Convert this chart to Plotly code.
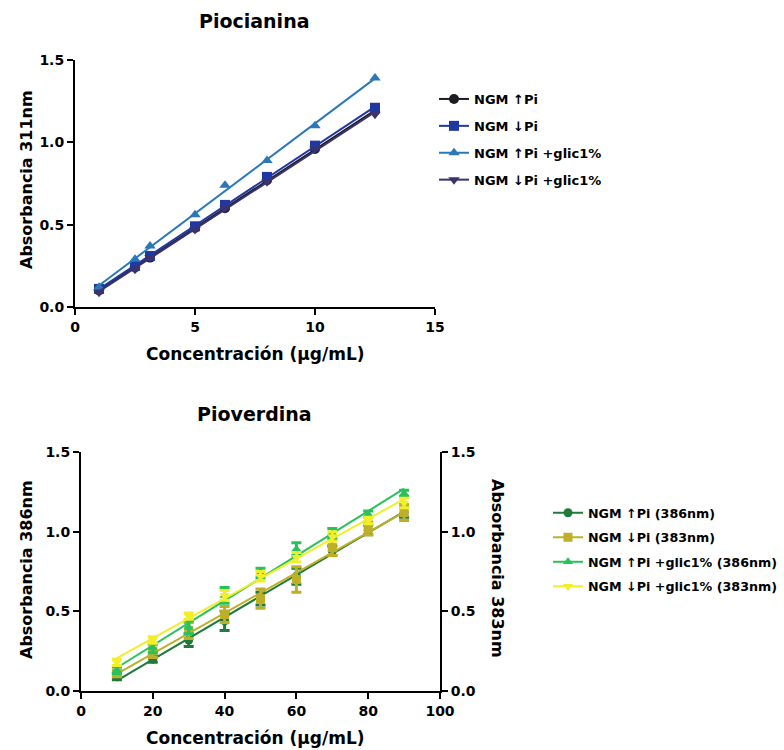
import numpy as np
import plotly.graph_objects as go

# ---------------- data ----------------
conc_pio = [1, 2.5, 3.125, 5, 6.25, 8, 10, 12.5]
pio_up = [0.10, 0.24, 0.30, 0.48, 0.60, 0.77, 0.96, 1.19]
pio_down = [0.11, 0.25, 0.31, 0.49, 0.62, 0.79, 0.98, 1.21]
pio_up_glic = [0.12, 0.29, 0.37, 0.56, 0.74, 0.89, 1.10, 1.39]
pio_down_glic = [0.09, 0.23, 0.30, 0.47, 0.60, 0.76, 0.96, 1.17]

conc_pvd = [10, 20, 30, 40, 50, 60, 70, 80, 90]
pvd_up = [0.09, 0.20, 0.32, 0.44, 0.58, 0.72, 0.88, 1.01, 1.12]
pvd_up_err = [0.02, 0.02, 0.04, 0.06, 0.04, 0.05, 0.03, 0.03, 0.03]
pvd_down = [0.11, 0.25, 0.38, 0.48, 0.58, 0.70, 0.90, 1.02, 1.12]
pvd_down_err = [0.02, 0.04, 0.05, 0.05, 0.06, 0.08, 0.05, 0.04, 0.05]
pvd_up_glic = [0.13, 0.27, 0.40, 0.60, 0.74, 0.89, 0.99, 1.11, 1.24]
pvd_up_glic_err = [0.02, 0.03, 0.04, 0.05, 0.03, 0.04, 0.03, 0.02, 0.02]
pvd_down_glic = [0.18, 0.32, 0.47, 0.60, 0.72, 0.84, 0.97, 1.07, 1.18]
pvd_down_glic_err = [0.02, 0.02, 0.02, 0.03, 0.03, 0.03, 0.03, 0.02, 0.03]

UP = "<span style='font-family:DejaVu Sans'>\u2191</span>"
DN = "<span style='font-family:DejaVu Sans'>\u2193</span>"
pio_names = ["NGM " + UP + "Pi", "NGM " + DN + "Pi", "NGM " + UP + "Pi +glic1%", "NGM " + DN + "Pi +glic1%"]
pvd_names = ["NGM " + UP + "Pi (386nm)", "NGM " + DN + "Pi (383nm)",
             "NGM " + UP + "Pi +glic1% (386nm)", "NGM " + DN + "Pi +glic1% (383nm)"]

FONT = "DejaVu Sans"

fig = go.Figure()

def add_series(x, y, name, color, symbol, size, xa, ya, legend, err=None):
    coef = np.polyfit(x, y, 1)
    xf = [min(x), max(x)]
    yf = [coef[0] * v + coef[1] for v in xf]
    fig.add_trace(go.Scatter(x=xf, y=yf, mode="lines", line=dict(color=color, width=2),
                             xaxis=xa, yaxis=ya, showlegend=False, hoverinfo="skip"))
    ekw = {}
    if err is not None:
        ekw = dict(error_y=dict(type="data", array=err, color=color, thickness=3, width=5))
    fig.add_trace(go.Scatter(x=x, y=y, mode="markers",
                             marker=dict(color=color, symbol=symbol, size=size),
                             xaxis=xa, yaxis=ya, showlegend=False, **ekw))
    fig.add_trace(go.Scatter(x=[None], y=[None], mode="lines+markers", name=name,
                             line=dict(color=color, width=2),
                             marker=dict(color=color, symbol=symbol, size=size),
                             xaxis=xa, yaxis=ya, legend=legend, legendgroup=name))

pio_colors = ["#1c1c22", "#2038a0", "#2a78b8", "#3b3270"]
pio_symbols = ["circle", "square", "triangle-up", "triangle-down"]
for yv, nm, c, s in zip([pio_up, pio_down, pio_up_glic, pio_down_glic], pio_names, pio_colors, pio_symbols):
    add_series(conc_pio, yv, nm, c, s, 10, "x", "y", "legend")

pvd_colors = ["#1f7a3c", "#bdb028", "#28c25a", "#f2ee2a"]
for yv, er, nm, c, s in zip([pvd_up, pvd_down, pvd_up_glic, pvd_down_glic],
                            [pvd_up_err, pvd_down_err, pvd_up_glic_err, pvd_down_glic_err],
                            pvd_names, pvd_colors, pio_symbols):
    add_series(conc_pvd, yv, nm, c, s, 9, "x2", "y2", "legend2", err=er)

W, H = 784, 750
def px_x(p):
    return p / W
def px_y(p):
    return 1 - p / H

axis_common = dict(showline=True, linecolor="black", linewidth=2, ticks="outside",
                   ticklen=6, tickwidth=2, tickcolor="black", showgrid=False, zeroline=False,
                   automargin=False,
                   tickfont=dict(family=FONT, size=14, color="black", weight="bold"))

fig.update_layout(
    width=W, height=H, paper_bgcolor="white", plot_bgcolor="white",
    margin=dict(l=0, r=0, t=0, b=0, pad=0, autoexpand=False),
    font=dict(family=FONT, color="black"),
    xaxis=dict(domain=[px_x(75), px_x(435)], range=[0, 15], tickvals=[0, 5, 10, 15],
               anchor="y", **axis_common),
    yaxis=dict(domain=[px_y(307), px_y(60)], range=[0, 1.5], tickvals=[0, 0.5, 1.0, 1.5],
               ticktext=["0.0", "0.5", "1.0", "1.5"], anchor="x", **axis_common),
    xaxis2=dict(domain=[px_x(81), px_x(440)], range=[0, 100], tickvals=[0, 20, 40, 60, 80, 100],
                anchor="y2", **axis_common),
    yaxis2=dict(domain=[px_y(691), px_y(452)], range=[0, 1.5], tickvals=[0, 0.5, 1.0, 1.5],
                ticktext=["0.0", "0.5", "1.0", "1.5"], anchor="x2", **axis_common),
    yaxis3=dict(domain=[px_y(691), px_y(452)], range=[0, 1.5], tickvals=[0, 0.5, 1.0, 1.5],
                ticktext=["0.0", "0.5", "1.0", "1.5"], anchor="x2", overlaying="y2", side="right",
                **axis_common),
    legend=dict(x=px_x(434), y=px_y(84), xanchor="left", yanchor="top",
                bgcolor="rgba(0,0,0,0)", tracegroupgap=7,
                font=dict(family=FONT, size=13, color="black", weight="bold")),
    legend2=dict(x=px_x(548), y=px_y(498), xanchor="left", yanchor="top",
                 bgcolor="rgba(0,0,0,0)", tracegroupgap=5,
                 font=dict(family=FONT, size=12.7, color="black", weight="bold")),
)
# dummy trace so the right axis renders
fig.add_trace(go.Scatter(x=[None], y=[None], xaxis="x2", yaxis="y3", showlegend=False))

def ann(text, x, y, size, angle=0):
    fig.add_annotation(text=text, x=px_x(x), y=px_y(y), xref="paper", yref="paper",
                       showarrow=False, textangle=angle, xanchor="center", yanchor="middle",
                       font=dict(family=FONT, size=size, color="black", weight="bold"))

ann("Piocianina", 254, 21, 19)
ann("Pioverdina", 254, 414, 19)
ann("Concentración (\u00b5g/mL)", 255, 354, 17)
ann("Concentración (\u00b5g/mL)", 256, 738, 17)
ann("Absorbancia 311nm", 26, 180, 16, -90)
ann("Absorbancia 386nm", 26, 570, 16, -90)
ann("Absorbancia 383nm", 498, 568, 16, 90)

fig.write_html("out.html", config={"displayModeBar": False},
               post_script="document.body.style.margin='0';document.body.style.padding='0';"
                           "document.body.style.overflow='hidden';")
